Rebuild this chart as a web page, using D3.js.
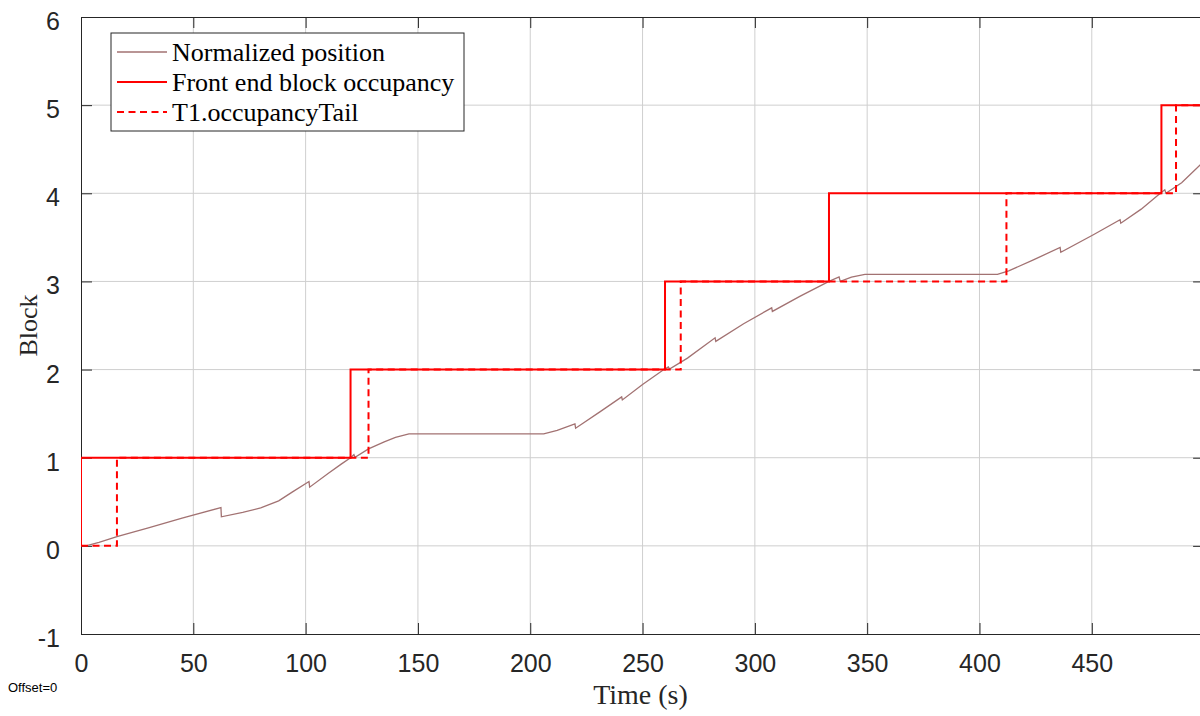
<!DOCTYPE html>
<html>
<head>
<meta charset="utf-8">
<script src="https://cdn.jsdelivr.net/npm/d3@7"></script>
<style>
  body { margin: 0; background: #fff; overflow: hidden; }
</style>
</head>
<body>
<script>
// --- Data ---
const xTicks = [0, 50, 100, 150, 200, 250, 300, 350, 400, 450];
const yTicks = [-1, 0, 1, 2, 3, 4, 5, 6];

// Front end block occupancy (step after)
const frontTime  = [0, 0, 120, 260, 333, 481, 500];
const frontBlock = [0, 1, 2, 3, 4, 5, 5];

// T1.occupancyTail (step after)
const tailTime  = [0, 16, 128, 267, 412, 487.5, 500];
const tailBlock = [0, 1, 2, 3, 4, 5, 5];

// Normalized position
const posTime = [0, 3, 8, 16, 30, 45, 62.3, 62.5, 72, 80, 88, 94, 101.5, 101.8, 110, 116, 120,
  121.5, 122, 128, 135, 140, 146, 206, 212, 219.9, 220.2, 231, 240.7, 241, 250, 259.5,
  261.5, 262, 270, 282.3, 282.6, 295, 307.5, 307.8, 320, 333, 337.5, 338, 343, 349, 408,
  413, 424, 435.9, 436.2, 450.7, 462.6, 462.9, 472, 480.5, 482.5, 483, 490, 498.2, 500];
const posValue = [0, 0.005, 0.04, 0.105, 0.205, 0.315, 0.435, 0.33, 0.38, 0.43, 0.51, 0.61, 0.73, 0.666, 0.82, 0.93, 1.0,
  1.035, 1.005, 1.1, 1.18, 1.23, 1.27, 1.27, 1.31, 1.385, 1.335, 1.52, 1.69, 1.655, 1.83, 2.0,
  2.03, 2.005, 2.13, 2.36, 2.32, 2.52, 2.70, 2.66, 2.83, 3.0, 3.05, 3.0, 3.05, 3.08, 3.08,
  3.12, 3.245, 3.385, 3.33, 3.53, 3.70, 3.66, 3.82, 4.0, 4.04, 4.0, 4.12, 4.32, 4.35];

const legendLabels = ["Normalized position", "Front end block occupancy", "T1.occupancyTail"];

// --- Layout ---
const W = 1200, H = 716;
const LEFT = 81, TOP = 17, BOTTOM = 634, RIGHT = 81 + 500 * 2.2462;
const AXIS = "#262626", GRID = "#cfcfcf";
const POS_COLOR = "#a27272", RED = "#ff0000";

const svg = d3.select("body").append("svg")
  .attr("width", W).attr("height", H);

const x = d3.scaleLinear().domain([0, 500]).range([LEFT, RIGHT]);
const y = d3.scaleLinear().domain([-1, 6]).range([BOTTOM, TOP]);

// Clip to plot area
svg.append("defs").append("clipPath").attr("id", "plot")
  .append("rect")
  .attr("x", LEFT).attr("y", TOP)
  .attr("width", RIGHT - LEFT).attr("height", BOTTOM - TOP);

// --- Grid ---
const grid = svg.append("g");
grid.selectAll(".gx").data(xTicks.filter(d => d > 0)).enter().append("line")
  .attr("x1", d => x(d)).attr("x2", d => x(d))
  .attr("y1", TOP).attr("y2", BOTTOM)
  .attr("stroke", GRID).attr("stroke-width", 1);
grid.selectAll(".gy").data(yTicks.filter(d => d > -1 && d < 6)).enter().append("line")
  .attr("x1", LEFT).attr("x2", RIGHT)
  .attr("y1", d => y(d)).attr("y2", d => y(d))
  .attr("stroke", GRID).attr("stroke-width", 1);

// --- Axes (MATLAB style, ticks inward, box on) ---
const fmt = d => String(d);
const xAxisB = d3.axisBottom(x).tickValues(xTicks).tickFormat(fmt).tickSizeInner(-11).tickSizeOuter(0).tickPadding(22);
const xAxisT = d3.axisTop(x).tickValues(xTicks).tickSizeInner(-11).tickSizeOuter(0).tickFormat("");
const yAxisL = d3.axisLeft(y).tickValues(yTicks).tickFormat(fmt).tickSizeInner(-11).tickSizeOuter(0).tickPadding(21);
const yAxisR = d3.axisRight(y).tickValues(yTicks).tickSizeInner(-11).tickSizeOuter(0).tickFormat("");

function styleAxis(g) {
  g.select(".domain").attr("stroke", AXIS);
  g.selectAll(".tick line").attr("stroke", AXIS);
  g.selectAll(".tick text")
    .attr("fill", AXIS)
    .attr("font-family", "'Liberation Sans', Arial, sans-serif")
    .attr("font-size", 25);
}

svg.append("g").attr("transform", `translate(0,${BOTTOM})`).call(xAxisB).call(styleAxis)
  .selectAll(".tick text").attr("dy", "0.62em");
svg.append("g").attr("transform", `translate(0,${TOP})`).call(xAxisT).call(styleAxis);
svg.append("g").attr("transform", `translate(${LEFT},0)`).call(yAxisL).call(styleAxis)
  .selectAll(".tick text").attr("dy", "0.5em");
svg.append("g").attr("transform", `translate(${RIGHT},0)`).call(yAxisR).call(styleAxis);

// --- Lines ---
const plot = svg.append("g").attr("clip-path", "url(#plot)");

const stepLine = d3.line()
  .x(d => x(d[0])).y(d => y(d[1]))
  .curve(d3.curveStepAfter);
const plainLine = d3.line()
  .x(d => x(d[0])).y(d => y(d[1]));

plot.append("path")
  .datum(posTime.map((t, i) => [t, posValue[i]]))
  .attr("d", plainLine)
  .attr("fill", "none").attr("stroke", POS_COLOR).attr("stroke-width", 1.3);

plot.append("path")
  .datum(frontTime.map((t, i) => [t, frontBlock[i]]))
  .attr("d", stepLine)
  .attr("fill", "none").attr("stroke", RED).attr("stroke-width", 2);

plot.append("path")
  .datum(tailTime.map((t, i) => [t, tailBlock[i]]))
  .attr("d", stepLine)
  .attr("fill", "none").attr("stroke", RED).attr("stroke-width", 2)
  .attr("stroke-dasharray", "7,4.5");

// --- Legend ---
const legend = svg.append("g");
legend.append("rect")
  .attr("x", 111).attr("y", 33).attr("width", 353).attr("height", 98)
  .attr("fill", "white").attr("stroke", AXIS).attr("stroke-width", 1);

const legendStyles = [
  { color: POS_COLOR, width: 1.3, dash: null },
  { color: RED, width: 2, dash: null },
  { color: RED, width: 2, dash: "7,4.5" }
];

legendLabels.forEach((label, i) => {
  const base = 61 + i * 30;
  legend.append("line")
    .attr("x1", 117).attr("x2", 167)
    .attr("y1", base - 9).attr("y2", base - 9)
    .attr("stroke", legendStyles[i].color)
    .attr("stroke-width", legendStyles[i].width)
    .attr("stroke-dasharray", legendStyles[i].dash);
  legend.append("text")
    .attr("x", 172).attr("y", base)
    .attr("font-family", "'Liberation Serif', 'Times New Roman', serif")
    .attr("font-size", 26)
    .attr("fill", "#000")
    .text(label);
});

// --- Axis titles ---
svg.append("text")
  .attr("x", (LEFT + 1200) / 2).attr("y", 704)
  .attr("text-anchor", "middle")
  .attr("font-family", "'Liberation Serif', 'Times New Roman', serif")
  .attr("font-size", 28)
  .attr("fill", AXIS)
  .text("Time (s)");

svg.append("text")
  .attr("transform", `translate(37,${(TOP + BOTTOM) / 2}) rotate(-90)`)
  .attr("text-anchor", "middle")
  .attr("font-family", "'Liberation Serif', 'Times New Roman', serif")
  .attr("font-size", 26)
  .attr("fill", AXIS)
  .text("Block");

svg.append("text")
  .attr("x", 8).attr("y", 692)
  .attr("font-family", "'Liberation Sans', Arial, sans-serif")
  .attr("font-size", 13)
  .attr("fill", "#000")
  .text("Offset=0");
</script>
</body>
</html>
